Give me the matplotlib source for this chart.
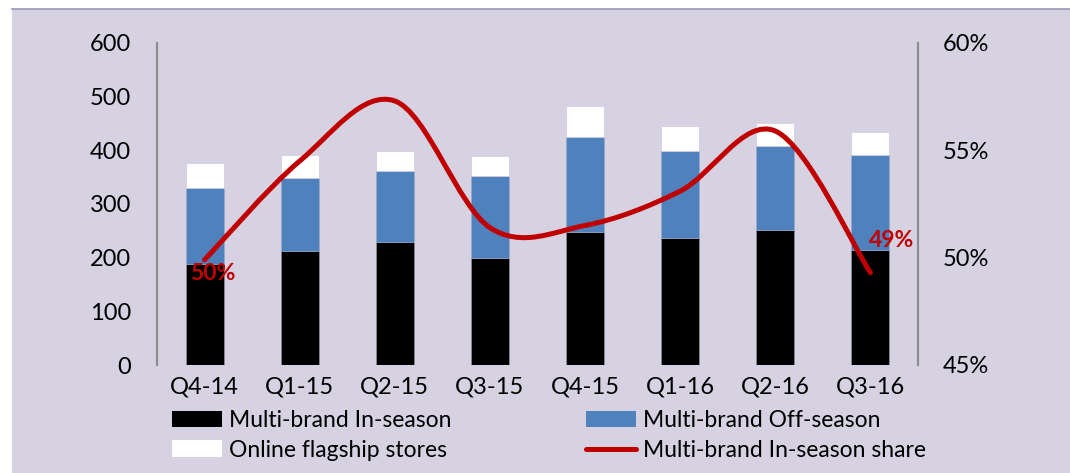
import numpy as np
import matplotlib
matplotlib.use("Agg")
import matplotlib.pyplot as plt
from matplotlib.path import Path
from matplotlib.patches import PathPatch, Patch, Rectangle
from matplotlib.lines import Line2D

quarters = ["Q4-14", "Q1-15", "Q2-15", "Q3-15", "Q4-15", "Q1-16", "Q2-16", "Q3-16"]
in_season = [188, 213, 229, 200, 248, 237, 252, 214]
off_season = [141, 135, 133, 152, 176, 162, 156, 178]
online = [48, 43, 37, 37, 59, 47, 42, 43]
# in-season share of total (%)
share = [49.9, 54.5, 57.3, 51.4, 51.5, 53.1, 55.9, 49.3]

bg = "#D6D2E2"
red = "#C00000"
blue = "#4F81BD"

plt.rcParams["font.family"] = ["Lato", "DejaVu Sans"]

fig = plt.figure(figsize=(10.7, 4.73), dpi=100, facecolor="white")
# panel background with a thin top border
fig.patches.append(Rectangle((12 / 1070, 0), 1 - 12 / 1070, 1 - 9 / 473,
                             transform=fig.transFigure, facecolor=bg,
                             edgecolor="none", zorder=-10))
fig.lines.append(Line2D([12 / 1070, 1], [1 - 9 / 473] * 2, transform=fig.transFigure,
                        color="#9C96B4", lw=1.2))

ax = fig.add_axes([157 / 1070, 108 / 473, 761 / 1070, 322 / 473])
ax.set_facecolor("none")
x = np.arange(len(quarters))
w = 0.4
b1 = np.array(in_season)
b2 = b1 + np.array(off_season)
ax.bar(x, in_season, w, color="black", edgecolor="#9a98a8", lw=0.4, zorder=2)
ax.bar(x, off_season, w, bottom=b1, color=blue, edgecolor="#9aa8c8", lw=0.4, zorder=2)
ax.bar(x, online, w, bottom=b2, color="white", edgecolor="#c8c4d8", lw=0.4, zorder=2)

ax.set_xlim(-0.5, len(quarters) - 0.5)
ax.set_ylim(0, 600)
ax.set_yticks(range(0, 601, 100))
ax.set_xticks(x)
ax.set_xticklabels(quarters)
ax.tick_params(axis="both", length=0, labelsize=17, colors="black")
ax.tick_params(axis="y", pad=18.5)
ax.tick_params(axis="x", pad=8)
for s in ["top", "bottom", "right"]:
    ax.spines[s].set_visible(False)
ax.spines["left"].set_color("#8C8C8C")
ax.spines["left"].set_linewidth(1.5)

ax2 = ax.twinx()
ax2.set_ylim(45, 60)
ax2.set_yticks([45, 50, 55, 60])
ax2.set_yticklabels([f"{v}%" for v in [45, 50, 55, 60]])
ax2.tick_params(axis="y", length=0, labelsize=17, pad=18)
for s in ["top", "bottom", "left"]:
    ax2.spines[s].set_visible(False)
ax2.spines["right"].set_color("#8C8C8C")
ax2.spines["right"].set_linewidth(1.5)

# smoothed share line (cubic Bezier through each point)
pts = np.column_stack([x, share]).astype(float)
verts = [tuple(pts[0])]
codes = [Path.MOVETO]
n = len(pts)
for i in range(n - 1):
    p0 = pts[max(i - 1, 0)]
    p1 = pts[i]
    p2 = pts[i + 1]
    p3 = pts[min(i + 2, n - 1)]
    c1 = p1 + (p2 - p0) / 6
    c2 = p2 - (p3 - p1) / 6
    verts += [tuple(c1), tuple(c2), tuple(p2)]
    codes += [Path.CURVE4] * 3
ax2.add_patch(PathPatch(Path(verts, codes), facecolor="none", edgecolor=red,
                        lw=3.6, capstyle="round", joinstyle="round", zorder=5))

ax2.annotate(f"{share[0]:.0f}%", (x[0], share[0]), xytext=(6, -10),
             textcoords="offset points", ha="center", va="center",
             color=red, fontsize=16.5, fontweight="bold")
ax2.annotate(f"{share[-1]:.0f}%", (x[-1], share[-1]), xytext=(15, 23),
             textcoords="offset points", ha="center", va="center",
             color=red, fontsize=16.5, fontweight="bold")

handles = [Patch(facecolor="black"), Patch(facecolor="white"),
           Patch(facecolor=blue),
           Line2D([0], [0], color=red, lw=3.6, solid_capstyle="round")]
labels = ["Multi-brand In-season", "Online flagship stores",
          "Multi-brand Off-season", "Multi-brand In-season share"]
fig.legend(handles, labels, ncol=2, loc="upper left",
           bbox_to_anchor=(172 / 1070, 1 - 410 / 473), frameon=False,
           fontsize=16.5, handlelength=2.2, handleheight=0.75, handletextpad=0.3,
           columnspacing=5.85, labelspacing=0.38, borderpad=0, borderaxespad=0)

fig.savefig("out.png", dpi=100, facecolor="white")
